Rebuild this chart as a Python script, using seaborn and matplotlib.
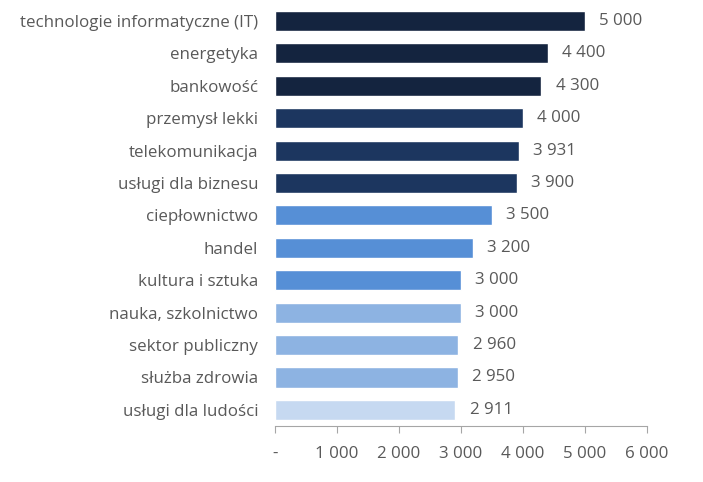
import seaborn as sns
import matplotlib.pyplot as plt
import pandas as pd

# Data
categories = [
    "technologie informatyczne (IT)", "energetyka", "bankowość", "przemysł lekki",
    "telekomunikacja", "usługi dla biznesu", "ciepłownictwo", "handel",
    "kultura i sztuka", "nauka, szkolnictwo", "sektor publiczny",
    "służba zdrowia", "usługi dla ludości",
]
values = [5000, 4400, 4300, 4000, 3931, 3900, 3500, 3200, 3000, 3000, 2960, 2950, 2911]
bar_colors = [
    "#14243f", "#14243f", "#14243f",
    "#1c365f", "#1c365f", "#1c365f",
    "#568fd6", "#568fd6", "#568fd6",
    "#8db3e2", "#8db3e2", "#8db3e2",
    "#c6d9f1",
]
x_ticks = [0, 1000, 2000, 3000, 4000, 5000, 6000]

def fmt(v):
    return "-" if v == 0 else f"{v:,}".replace(",", " ")

df = pd.DataFrame({"category": categories, "value": values})

sns.set_theme(style="white")
plt.rcParams["font.family"] = ["Open Sans", "DejaVu Sans"]
text_color = "#595959"
fs = 12.2

fig = plt.figure(figsize=(7.03, 4.82), dpi=100)
ax = fig.add_axes([0.391, 0.116, 0.529, 0.874])

sns.barplot(data=df, x="value", y="category", hue="category",
            palette=bar_colors, legend=False, width=0.62, saturation=1,
            orient="h", ax=ax)

for i, v in enumerate(values):
    ax.text(v + 230, i, fmt(v), va="center", ha="left",
            fontsize=fs, color=text_color)

ax.set_xlim(0, 6000)
ax.set_xticks(x_ticks)
ax.set_xticklabels([fmt(t) for t in x_ticks], fontsize=fs, color=text_color)
ax.tick_params(axis="y", labelsize=fs, colors=text_color, length=0, pad=12)
ax.tick_params(axis="x", length=5, width=0.8, color="#a6a6a6", direction="out",
               bottom=True, pad=9)
ax.set_xlabel("")
ax.set_ylabel("")
for side in ["top", "right", "left"]:
    ax.spines[side].set_visible(False)
ax.spines["bottom"].set_color("#a6a6a6")
ax.spines["bottom"].set_linewidth(0.8)

fig.savefig("out.png", dpi=100)
